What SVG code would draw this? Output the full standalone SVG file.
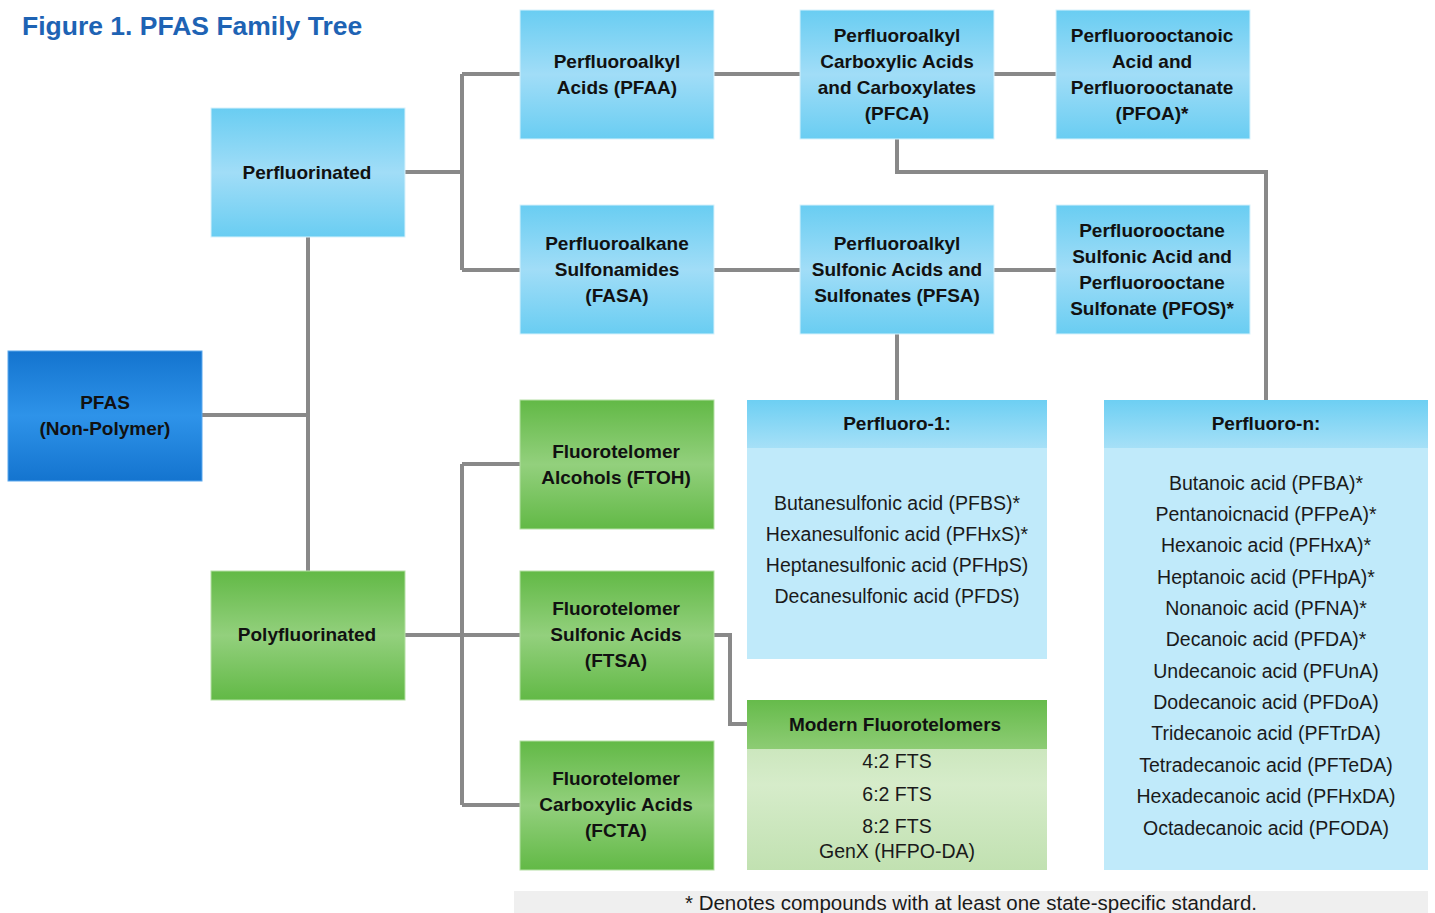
<svg xmlns="http://www.w3.org/2000/svg" width="1435" height="913" viewBox="0 0 1435 913">
<defs>
<linearGradient id="gLB" x1="0" y1="0" x2="0" y2="1">
<stop offset="0" stop-color="#69cdf2"/><stop offset="0.5" stop-color="#a1ddf7"/><stop offset="1" stop-color="#69cdf2"/>
</linearGradient>
<linearGradient id="gDB" x1="0" y1="0" x2="0" y2="1">
<stop offset="0" stop-color="#1474cf"/><stop offset="0.5" stop-color="#2e93e9"/><stop offset="1" stop-color="#1474cf"/>
</linearGradient>
<linearGradient id="gG" x1="0" y1="0" x2="0" y2="1">
<stop offset="0" stop-color="#62b946"/><stop offset="0.5" stop-color="#93d07d"/><stop offset="1" stop-color="#62b946"/>
</linearGradient>
<linearGradient id="gHB" x1="0" y1="0" x2="0" y2="1">
<stop offset="0" stop-color="#6dcff3"/><stop offset="1" stop-color="#a6e0f7"/>
</linearGradient>
<linearGradient id="gHG" x1="0" y1="0" x2="0" y2="1">
<stop offset="0" stop-color="#66bb4b"/><stop offset="1" stop-color="#8dcc74"/>
</linearGradient>
<linearGradient id="gBG" x1="0" y1="0" x2="0" y2="1">
<stop offset="0" stop-color="#bfe0ae"/><stop offset="0.5" stop-color="#d6ecca"/><stop offset="1" stop-color="#c1e1b1"/>
</linearGradient>
</defs>
<style>
.t{font-family:"Liberation Sans",Arial,sans-serif;font-size:19px;font-weight:bold;fill:#111;text-anchor:middle}
.r{font-family:"Liberation Sans",Arial,sans-serif;font-size:19.5px;fill:#1a1a1a;text-anchor:middle}
.lb{fill:url(#gLB);stroke:#d8f2fc;stroke-width:1}
.db{fill:url(#gDB);stroke:#5aa8ee;stroke-width:1}
.gr{fill:url(#gG);stroke:#b5e0a5;stroke-width:1}
.c{fill:none;stroke:#898989;stroke-width:4;stroke-linejoin:miter}
</style>
<rect width="1435" height="913" fill="#ffffff"/>
<text x="22" y="35" font-family="Liberation Sans,Arial,sans-serif" font-size="26.5" font-weight="bold" fill="#1e63b4">Figure 1. PFAS Family Tree</text>

<g id="connectors">
<path class="c" d="M202 415H308M308 237V571"/>
<path class="c" d="M405 172H462M462 74V270M462 74H520M462 270H520"/>
<path class="c" d="M714 74H800M994 74H1056"/>
<path class="c" d="M714 270H800M994 270H1056"/>
<path class="c" d="M897 334V400"/>
<path class="c" d="M897 139V172H1266V400"/>
<path class="c" d="M405 635H520M462 464V805M462 464H520M462 805H520"/>
<path class="c" d="M714 635H730V724H747"/>
</g>

<g id="pfas"><rect class="db" x="8" y="351" width="194" height="130"/>
<text class="t" x="105" y="409">PFAS</text><text class="t" x="105" y="435">(Non-Polymer)</text></g>

<g id="perfluorinated"><rect class="lb" x="211" y="108" width="194" height="129"/>
<text class="t" x="307" y="179">Perfluorinated</text></g>

<g id="polyfluorinated"><rect class="gr" x="211" y="571" width="194" height="129"/>
<text class="t" x="307" y="641">Polyfluorinated</text></g>

<g id="pfaa"><rect class="lb" x="520" y="10" width="194" height="129"/>
<text class="t" x="617" y="68">Perfluoroalkyl</text><text class="t" x="617" y="94">Acids (PFAA)</text></g>

<g id="fasa"><rect class="lb" x="520" y="205" width="194" height="129"/>
<text class="t" x="617" y="250">Perfluoroalkane</text><text class="t" x="617" y="276">Sulfonamides</text><text class="t" x="617" y="302">(FASA)</text></g>

<g id="pfca"><rect class="lb" x="800" y="10" width="194" height="129"/>
<text class="t" x="897" y="42">Perfluoroalkyl</text><text class="t" x="897" y="68">Carboxylic Acids</text><text class="t" x="897" y="94">and Carboxylates</text><text class="t" x="897" y="120">(PFCA)</text></g>

<g id="pfsa"><rect class="lb" x="800" y="205" width="194" height="129"/>
<text class="t" x="897" y="250">Perfluoroalkyl</text><text class="t" x="897" y="276">Sulfonic Acids and</text><text class="t" x="897" y="302">Sulfonates (PFSA)</text></g>

<g id="pfoa"><rect class="lb" x="1056" y="10" width="194" height="129"/>
<text class="t" x="1152" y="42">Perfluorooctanoic</text><text class="t" x="1152" y="68">Acid and</text><text class="t" x="1152" y="94">Perfluorooctanate</text><text class="t" x="1152" y="120">(PFOA)*</text></g>

<g id="pfos"><rect class="lb" x="1056" y="205" width="194" height="129"/>
<text class="t" x="1152" y="237">Perfluorooctane</text><text class="t" x="1152" y="263">Sulfonic Acid and</text><text class="t" x="1152" y="289">Perfluorooctane</text><text class="t" x="1152" y="315">Sulfonate (PFOS)*</text></g>

<g id="ftoh"><rect class="gr" x="520" y="400" width="194" height="129"/>
<text class="t" x="616" y="458">Fluorotelomer</text><text class="t" x="616" y="484">Alcohols (FTOH)</text></g>

<g id="ftsa"><rect class="gr" x="520" y="571" width="194" height="129"/>
<text class="t" x="616" y="615">Fluorotelomer</text><text class="t" x="616" y="641">Sulfonic Acids</text><text class="t" x="616" y="667">(FTSA)</text></g>

<g id="fcta"><rect class="gr" x="520" y="741" width="194" height="129"/>
<text class="t" x="616" y="785">Fluorotelomer</text><text class="t" x="616" y="811">Carboxylic Acids</text><text class="t" x="616" y="837">(FCTA)</text></g>

<g id="perfluoro1">
<rect x="747" y="400" width="300" height="259" fill="#c0eafa"/>
<rect x="747" y="400" width="300" height="48" fill="url(#gHB)"/>
<text class="t" x="897" y="430">Perfluoro-1:</text>
<text class="r" x="897" y="510">Butanesulfonic acid (PFBS)*</text>
<text class="r" x="897" y="541">Hexanesulfonic acid (PFHxS)*</text>
<text class="r" x="897" y="572">Heptanesulfonic acid (PFHpS)</text>
<text class="r" x="897" y="603">Decanesulfonic acid (PFDS)</text>
</g>

<g id="perfluoron">
<rect x="1104" y="400" width="324" height="470" fill="#c0eafa"/>
<rect x="1104" y="400" width="324" height="48" fill="url(#gHB)"/>
<text class="t" x="1266" y="430">Perfluoro-n:</text>
<text class="r" x="1266" y="490">Butanoic acid (PFBA)*</text>
<text class="r" x="1266" y="521">Pentanoicnacid (PFPeA)*</text>
<text class="r" x="1266" y="552">Hexanoic acid (PFHxA)*</text>
<text class="r" x="1266" y="584">Heptanoic acid (PFHpA)*</text>
<text class="r" x="1266" y="615">Nonanoic acid (PFNA)*</text>
<text class="r" x="1266" y="646">Decanoic acid (PFDA)*</text>
<text class="r" x="1266" y="678">Undecanoic acid (PFUnA)</text>
<text class="r" x="1266" y="709">Dodecanoic acid (PFDoA)</text>
<text class="r" x="1266" y="740">Tridecanoic acid (PFTrDA)</text>
<text class="r" x="1266" y="772">Tetradecanoic acid (PFTeDA)</text>
<text class="r" x="1266" y="803">Hexadecanoic acid (PFHxDA)</text>
<text class="r" x="1266" y="835">Octadecanoic acid (PFODA)</text>
</g>

<g id="modern">
<rect x="747" y="700" width="300" height="170" fill="url(#gBG)"/>
<rect x="747" y="700" width="300" height="49" fill="url(#gHG)"/>
<text class="t" x="895" y="731">Modern Fluorotelomers</text>
<text class="r" x="897" y="768">4:2 FTS</text>
<text class="r" x="897" y="801">6:2 FTS</text>
<text class="r" x="897" y="833">8:2 FTS</text>
<text class="r" x="897" y="858">GenX (HFPO-DA)</text>
</g>

<g id="footer">
<rect x="514" y="891" width="914" height="22" fill="#efefef"/>
<text class="r" x="971" y="910" style="font-size:20.5px">* Denotes compounds with at least one state-specific standard.</text>
</g>
</svg>
